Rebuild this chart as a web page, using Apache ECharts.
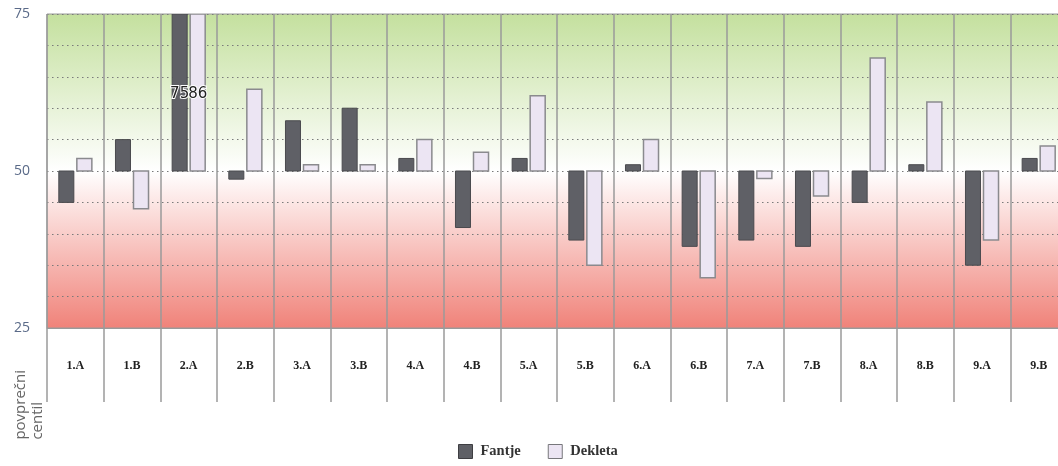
<!DOCTYPE html>
<html><head><meta charset="utf-8">
<script src="https://cdn.jsdelivr.net/npm/echarts@6/dist/echarts.min.js"></script>
<style>html,body{margin:0;padding:0;background:#fff;overflow:hidden}#c{width:1072px;height:466px}</style>
</head><body><div id="c"></div>
<script>
const categories = ['1.A','1.B','2.A','2.B','3.A','3.B','4.A','4.B','5.A','5.B','6.A','6.B','7.A','7.B','8.A','8.B','9.A','9.B'];
const fantje  = [45, 55, 75, 48.7, 58, 60, 52, 41, 52, 39, 51, 38, 39, 38, 45, 51, 35, 52];
const dekleta = [52, 44, 86, 63, 51, 51, 55, 53, 62, 35, 55, 33, 48.8, 46, 68, 61, 39, 54];
const yTicks = [25, 50, 75];
const baseValue = 50, yMin = 25, yMax = 75;

function makeRender(offset, fill, stroke, lw) {
  return function (params, api) {
    const cat = api.value(0), v = api.value(1);
    const cs = params.coordSys;
    const p0 = api.coord([cat, baseValue]);
    const p1 = api.coord([cat, v]);
    const bw = api.size([1, 0])[0];
    const w = bw * 0.265;
    const cx = p0[0] + offset * bw;
    let top = Math.min(p0[1], p1[1]), bot = Math.max(p0[1], p1[1]);
    top = Math.max(top, cs.y); bot = Math.min(bot, cs.y + cs.height);
    const children = [{
      type: 'rect',
      shape: {x: cx - w / 2, y: top, width: w, height: bot - top},
      style: {fill: fill, stroke: stroke, lineWidth: lw}
    }];
    if (v >= yMax) {
      children.push({
        type: 'text',
        z2: 100,
        style: {
          text: String(v), x: cx, y: (top + bot) / 2 + 2,
          align: 'center', verticalAlign: 'middle',
          fill: '#222', stroke: '#fff', lineWidth: 2,
          font: '15px "DejaVu Sans", sans-serif'
        }
      });
    }
    return {type: 'group', children: children};
  };
}

const chart = echarts.init(document.getElementById('c'));
chart.setOption({
  animation: false,
  grid: {
    left: 47, top: 14, width: 1020, height: 314, show: true, containLabel: false,
    borderColor: '#9a9a9a', borderWidth: 1,
    backgroundColor: {
      type: 'linear', x: 0, y: 0, x2: 0, y2: 1,
      colorStops: [
        {offset: 0, color: '#c4e09e'},
        {offset: 0.5, color: '#ffffff'},
        {offset: 1, color: '#f08279'}
      ]
    }
  },
  legend: {
    bottom: 2, left: 453, itemGap: 27, itemWidth: 14, itemHeight: 14,
    textStyle: {fontFamily: '"Liberation Serif", serif', fontWeight: 'bold', fontSize: 14.5, color: '#333', padding: [0, 0, 0, 3]},
    data: [
      {name: 'Fantje', icon: 'rect', itemStyle: {color: '#5f6066', borderColor: '#3e3e42', borderWidth: 1}},
      {name: 'Dekleta', icon: 'rect', itemStyle: {color: '#ece5f3', borderColor: '#77777b', borderWidth: 1}}
    ]
  },
  xAxis: {
    type: 'category', data: categories, boundaryGap: true,
    axisLine: {show: true, lineStyle: {color: '#9a9a9a', width: 1}},
    axisTick: {show: true, interval: 0, length: 74, lineStyle: {color: '#9a9a9a', width: 1.5}},
    axisLabel: {interval: 0, margin: 32, fontFamily: '"Liberation Serif", serif', fontWeight: 'bold', fontSize: 12, color: '#222'},
    splitLine: {show: true, interval: 0, lineStyle: {color: '#9a9a9a', width: 1.5}}
  },
  yAxis: {
    type: 'value', min: yMin, max: yMax, interval: 5,
    axisLine: {show: false}, axisTick: {show: false},
    axisLabel: {
      margin: 17, fontSize: 14, color: '#5a6a88', fontFamily: '"Open Sans", sans-serif',
      formatter: function (v) { return yTicks.indexOf(v) >= 0 ? String(v) : ''; }
    },
    splitLine: {show: true, lineStyle: {color: '#7a7a7a', width: 1, type: [1.5, 3.5]}}
  },
  graphic: [{
    type: 'text', left: 12, top: 370, rotation: Math.PI / 2,
    style: {text: 'povprečni\ncentil', fill: '#666', font: '15px "Open Sans", sans-serif', lineHeight: 17}
  }],
  series: [
    {name: 'Fantje', type: 'custom', clip: true, itemStyle: {color: '#5f6066'},
     renderItem: makeRender(-0.159, '#5f6066', '#4a4a4e', 1),
     data: fantje.map((v, i) => [i, v])},
    {name: 'Dekleta', type: 'custom', clip: true, itemStyle: {color: '#ece5f3'},
     renderItem: makeRender(0.159, '#ece5f3', '#8a8a8e', 1.5),
     data: dekleta.map((v, i) => [i, v])}
  ]
});
</script></body></html>
